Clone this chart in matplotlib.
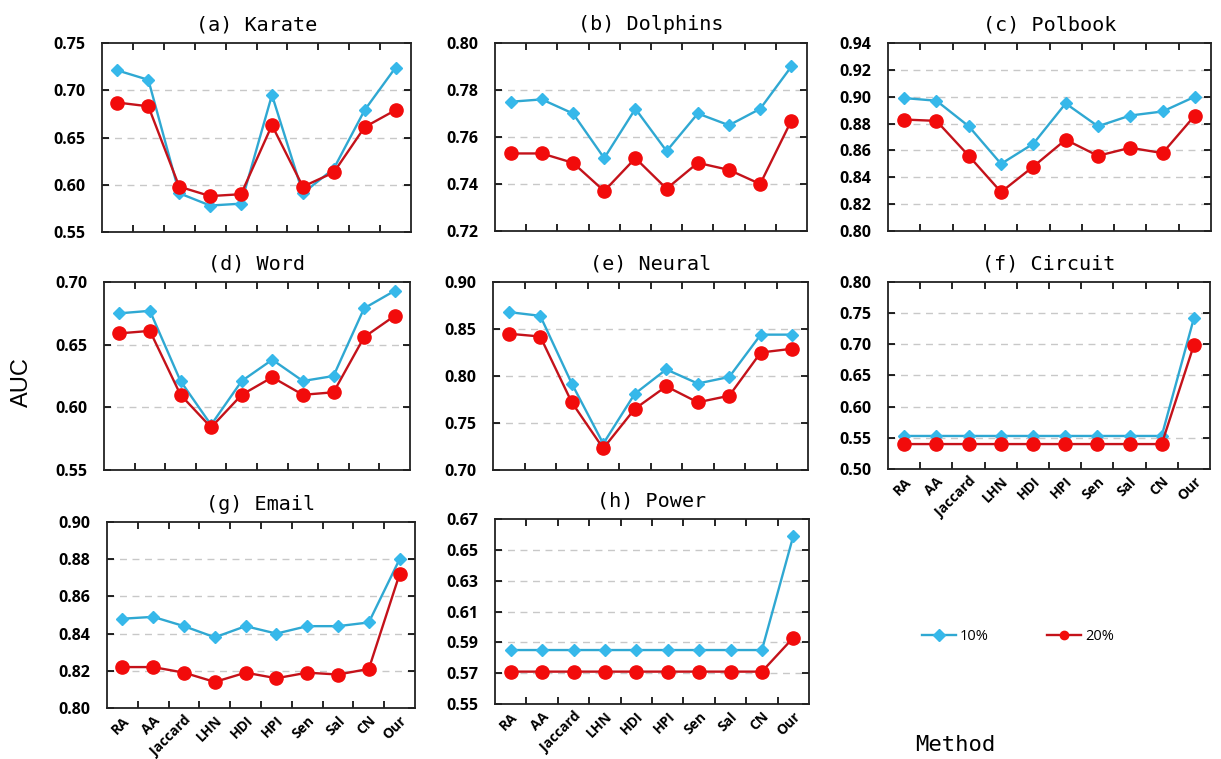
import matplotlib
matplotlib.use("Agg")
import matplotlib.pyplot as plt
import numpy as np
from matplotlib.ticker import FixedLocator, NullFormatter, FormatStrFormatter

methods = ["RA", "AA", "Jaccard", "LHN", "HDI", "HPI", "Sen", "Sal", "CN", "Our"]

karate_10 = [0.721, 0.711, 0.591, 0.578, 0.580, 0.695, 0.591, 0.617, 0.679, 0.724]
karate_20 = [0.687, 0.683, 0.598, 0.588, 0.590, 0.663, 0.598, 0.613, 0.661, 0.679]

dolphins_10 = [0.775, 0.776, 0.770, 0.751, 0.772, 0.754, 0.770, 0.765, 0.772, 0.790]
dolphins_20 = [0.753, 0.753, 0.749, 0.737, 0.751, 0.738, 0.749, 0.746, 0.740, 0.767]

polbook_10 = [0.899, 0.897, 0.878, 0.850, 0.865, 0.895, 0.878, 0.886, 0.889, 0.900]
polbook_20 = [0.883, 0.882, 0.856, 0.829, 0.848, 0.868, 0.856, 0.862, 0.858, 0.886]

word_10 = [0.675, 0.677, 0.621, 0.586, 0.621, 0.638, 0.621, 0.625, 0.679, 0.693]
word_20 = [0.659, 0.661, 0.610, 0.584, 0.610, 0.624, 0.610, 0.612, 0.656, 0.673]

neural_10 = [0.868, 0.864, 0.792, 0.728, 0.781, 0.807, 0.792, 0.799, 0.844, 0.844]
neural_20 = [0.845, 0.842, 0.772, 0.723, 0.765, 0.789, 0.772, 0.779, 0.825, 0.829]

circuit_10 = [0.553, 0.553, 0.553, 0.553, 0.553, 0.553, 0.553, 0.553, 0.553, 0.742]
circuit_20 = [0.540, 0.540, 0.540, 0.540, 0.540, 0.540, 0.540, 0.540, 0.540, 0.699]

email_10 = [0.848, 0.849, 0.844, 0.838, 0.844, 0.840, 0.844, 0.844, 0.846, 0.880]
email_20 = [0.822, 0.822, 0.819, 0.814, 0.819, 0.816, 0.819, 0.818, 0.821, 0.872]

power_10 = [0.585, 0.585, 0.585, 0.585, 0.585, 0.585, 0.585, 0.585, 0.585, 0.659]
power_20 = [0.571, 0.571, 0.571, 0.571, 0.571, 0.571, 0.571, 0.571, 0.571, 0.593]

titles = ["(a) Karate", "(b) Dolphins", "(c) Polbook", "(d) Word", "(e) Neural",
          "(f) Circuit", "(g) Email", "(h) Power"]
series10 = [karate_10, dolphins_10, polbook_10, word_10, neural_10, circuit_10, email_10, power_10]
series20 = [karate_20, dolphins_20, polbook_20, word_20, neural_20, circuit_20, email_20, power_20]
yticks = [
    [0.55, 0.60, 0.65, 0.70, 0.75],
    [0.72, 0.74, 0.76, 0.78, 0.80],
    [0.80, 0.82, 0.84, 0.86, 0.88, 0.90, 0.92, 0.94],
    [0.55, 0.60, 0.65, 0.70],
    [0.70, 0.75, 0.80, 0.85, 0.90],
    [0.50, 0.55, 0.60, 0.65, 0.70, 0.75, 0.80],
    [0.80, 0.82, 0.84, 0.86, 0.88, 0.90],
    [0.55, 0.57, 0.59, 0.61, 0.63, 0.65, 0.67],
]
show_xlabels = [False, False, False, False, False, True, True, True]

W, H = 1221, 759
# (left, top, right, bottom) in pixels
boxes = [
    (102, 43, 411, 232),
    (495, 43, 807, 231),
    (888, 43, 1211, 231),
    (104, 282, 410, 470),
    (493, 282, 808, 470),
    (888, 282, 1210, 469),
    (107, 522, 415, 708),
    (495, 519, 809, 704),
]

blue_line = "#2fa8d2"
blue_mk = "#36b8ea"
red_line = "#c4121a"
red_mk = "#f20b0b"

fig = plt.figure(figsize=(W / 100, H / 100), dpi=100)

title_font = dict(family="DejaVu Sans Mono", size=14.5)

handles = None
for i in range(8):
    l, t, r, b = boxes[i]
    ax = fig.add_axes([l / W, 1 - b / H, (r - l) / W, (b - t) / H])
    x = np.arange(len(methods))
    h1, = ax.plot(x, series10[i], color=blue_line, lw=1.7, marker="D", ms=6,
                  mfc=blue_mk, mec=blue_mk, label="10%", zorder=3)
    h2, = ax.plot(x, series20[i], color=red_line, lw=1.7, marker="o", ms=9.5,
                  mfc=red_mk, mec=red_mk, label="20%", zorder=4)
    handles = [h1, h2]
    ax.set_xlim(-0.5, len(methods) - 0.5)
    yt = yticks[i]
    ax.set_ylim(yt[0], yt[-1])
    ax.set_yticks(yt)
    ax.yaxis.set_major_formatter(FormatStrFormatter("%.2f"))
    for y in yt[1:-1]:
        ax.axhline(y, color="#c8c8c8", lw=1, ls=(0, (5, 4)), zorder=1)
    ax.set_xticks(x)
    ax.xaxis.set_minor_locator(FixedLocator(np.arange(0.5, len(methods) - 1, 1.0)))
    ax.xaxis.set_minor_formatter(NullFormatter())
    ax.tick_params(axis="x", which="major", length=0, pad=4)
    ax.tick_params(axis="x", which="minor", direction="in", length=5, top=True, bottom=True, width=1.2)
    ax.tick_params(axis="y", direction="in", length=5, right=True, left=True, width=1.2, pad=12)
    if show_xlabels[i]:
        ax.set_xticklabels(methods, rotation=45, ha="right", rotation_mode="anchor",
                           fontdict=dict(family="Open Sans", weight="bold", size=10))
    else:
        ax.set_xticklabels([])
    for lab in ax.get_yticklabels():
        lab.set_fontfamily("Open Sans")
        lab.set_fontweight("bold")
        lab.set_fontsize(11.5)
    for s in ax.spines.values():
        s.set_linewidth(1.3)
        s.set_color("#222222")
    ax.set_title(titles[i], fontdict=title_font, pad=9)

fig.text(22 / W, 1 - 382 / H, "AUC", rotation=90, ha="center", va="center",
         family="Liberation Sans", fontsize=17)
fig.text(955 / W, 1 - 745 / H, "Method", ha="center", va="center",
         family="DejaVu Sans Mono", fontsize=16)

fig.legend(handles=handles, labels=["10%", "20%"], loc="center",
           bbox_to_anchor=(1018 / W, 1 - 637 / H), ncol=2, frameon=False,
           columnspacing=4.0, handlelength=2.3, handletextpad=0.3,
           prop=dict(family="Open Sans", size=10.5))
for lh in fig.legends[0].legend_handles:
    lh.set_markersize(6)

fig.savefig("out.png", dpi=100)
